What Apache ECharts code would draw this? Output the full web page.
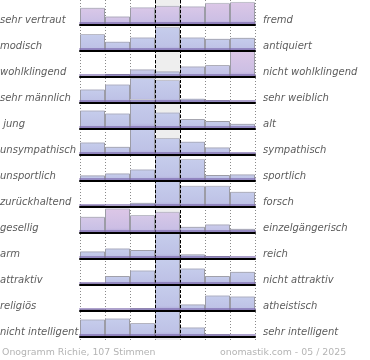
<!DOCTYPE html>
<html>
<head>
<meta charset="utf-8">
<script src="https://cdn.jsdelivr.net/npm/echarts@6/dist/echarts.min.js"></script>
<style>
html,body{margin:0;padding:0;background:#fff;}
#chart{width:370px;height:360px;}
</style>
</head>
<body>
<div id="chart"></div>
<script>
// ---- data ----
const positions = ['1', '2', '3', '4', '5', '6', '7'];
const leftLabels = ['sehr vertraut', 'modisch', 'wohlklingend', 'sehr männlich', ' jung', 'unsympathisch', 'unsportlich', 'zurückhaltend', 'gesellig', 'arm', 'attraktiv', 'religiös', 'nicht intelligent'];
const rightLabels = ['fremd', 'antiquiert', 'nicht wohlklingend', 'sehr weiblich', 'alt', 'sympathisch', 'sportlich', 'forsch', 'einzelgängerisch', 'reich', 'nicht attraktiv', 'atheistisch', 'sehr intelligent'];
const rowValues = [
  [18, 9, 18.5, 20, 19.5, 23, 24],
  [17, 9.5, 13.7, 24, 13.7, 12.3, 13.3],
  [0, 3, 7.7, 5.7, 10.7, 12, 26],
  [13.7, 18.7, 25, 23, 4.5, 2.8, 1.2],
  [18.7, 15.7, 30, 16.7, 10, 8, 5.3],
  [12.7, 8.3, 27, 17, 13.5, 7.7, 2.3],
  [5.7, 7.7, 11.7, 25, 22, 6, 6.7],
  [2, 0, 4.3, 26, 21.3, 21.3, 15.3],
  [16.3, 24.7, 18, 21.3, 6.3, 8.7, 4.3],
  [7.7, 10.7, 9, 26, 4.7, 3, 0],
  [2.3, 9, 14.7, 26, 16.7, 9, 13.3],
  [1.7, 0, 2.7, 26, 6.7, 15.7, 14.7],
  [17.7, 18.7, 14, 26, 9.7, 2.7, 0]
];
// share of pink tint per bar (0 = blue, 1 = pink)
const rowTint = [
  [0.75, 0.7, 0.75, 0.75, 0.75, 0.85, 0.85],
  [0, 0, 0, 0, 0, 0, 0],
  [0, 0, 0.1, 0, 0.1, 0.2, 0.85],
  [0, 0, 0, 0, 0, 0, 0],
  [0, 0, 0, 0, 0, 0, 0],
  [0, 0, 0, 0, 0, 0, 0],
  [0, 0, 0, 0, 0, 0, 0],
  [0, 0, 0, 0, 0, 0, 0],
  [0.6, 0.9, 0.6, 0.7, 0.2, 0.2, 0.2],
  [0, 0, 0, 0, 0, 0, 0],
  [0, 0, 0, 0, 0, 0, 0],
  [0, 0, 0, 0, 0, 0, 0],
  [0, 0, 0, 0, 0, 0, 0]
];
const footerLeft = 'Onogramm Richie, 107 Stimmen';
const footerRight = 'onomastik.com - 05 / 2025';

// ---- layout ----
const plotLeft = 80, plotWidth = 175, rowH = 26, firstBase = 25;
const labelFont = 'italic 10px "DejaVu Sans"';

function lerp(a, b, t) { return Math.round(a + (b - a) * t); }
function rgb(c) { return 'rgb(' + c.join(',') + ')'; }
const blueTop = [198, 205, 236], pinkTop = [224, 198, 230];
const blueMid = [190, 194, 230], pinkMid = [206, 190, 228];
const bottom = [172, 164, 214];
function barColor(t) {
  const top = blueTop.map((v, i) => lerp(v, pinkTop[i], t));
  const mid = blueMid.map((v, i) => lerp(v, pinkMid[i], t));
  return new echarts.graphic.LinearGradient(0, 0, 0, 1, [
    {offset: 0, color: rgb(top)},
    {offset: 0.8, color: rgb(mid)},
    {offset: 1, color: rgb(bottom)}
  ]);
}
const borderGrad = () => new echarts.graphic.LinearGradient(0, 0, 0, 1, [
  {offset: 0, color: '#d8d8e4'},
  {offset: 0.06, color: '#9c9ca6'},
  {offset: 1, color: '#9c9ca6'}
]);

const grids = [], xAxes = [], yAxes = [], series = [], graphics = [];

// background band of the middle column
grids.push({left: 155, width: 25, top: 0, height: 340, show: true, backgroundColor: '#eeeeee', borderWidth: 0, z: 0});
xAxes.push({gridIndex: 0, type: 'value', min: 0, max: 1, show: false});
yAxes.push({gridIndex: 0, type: 'value', min: 0, max: 1, show: false});
// dotted column separators
grids.push({left: plotLeft, width: plotWidth, top: 0, height: 340, z: 1});
xAxes.push({gridIndex: 1, type: 'value', min: 0, max: 7, interval: 1, z: 1,
  axisLine: {show: false}, axisTick: {show: false}, axisLabel: {show: false},
  splitLine: {show: true, showMinLine: true, showMaxLine: true, lineStyle: {color: '#8a8a8a', width: 1, type: [1, 2]}}});
yAxes.push({gridIndex: 1, type: 'value', min: 0, max: 1, show: false});
// dashed middle lines
grids.push({left: 155, width: 25, top: 0, height: 340, z: 10});
xAxes.push({gridIndex: 2, type: 'value', min: 0, max: 1, interval: 1, z: 10,
  axisLine: {show: false}, axisTick: {show: false}, axisLabel: {show: false},
  splitLine: {show: true, showMinLine: true, showMaxLine: true, lineStyle: {color: '#000', width: 1, type: [3, 2]}}});
yAxes.push({gridIndex: 2, type: 'value', min: 0, max: 1, show: false});

rowValues.forEach((vals, i) => {
  const gi = i + 3;
  const base = firstBase + i * rowH;
  grids.push({left: plotLeft, width: plotWidth, top: base - rowH, height: rowH, z: 2});
  xAxes.push({gridIndex: gi, type: 'category', data: positions, boundaryGap: true, z: 12,
    axisTick: {show: false}, axisLabel: {show: false}, splitLine: {show: false},
    axisLine: {show: true, lineStyle: {color: '#000', width: 2, shadowColor: 'rgba(120,100,170,0.6)', shadowOffsetY: -2, shadowBlur: 0}}});
  yAxes.push({gridIndex: gi, type: 'value', min: 0, max: rowH, show: false});
  series.push({
    type: 'bar', xAxisIndex: gi, yAxisIndex: gi, barCategoryGap: '0%', clip: false, silent: true,
    z: 3 + i * 0.01,
    itemStyle: {borderColor: borderGrad(), borderWidth: 1},
    data: vals.map((v, j) => ({value: v, itemStyle: {color: barColor(rowTint[i][j])}}))
  });
  graphics.push({type: 'text', x: 0, y: base - 5, z: 20,
    style: {text: leftLabels[i], font: labelFont, fill: '#5c5c5c', verticalAlign: 'middle', textVerticalAlign: 'middle'}});
  graphics.push({type: 'text', x: 263, y: base - 5, z: 20,
    style: {text: rightLabels[i], font: labelFont, fill: '#5c5c5c', verticalAlign: 'middle', textVerticalAlign: 'middle'}});
});

graphics.push({type: 'text', x: 2, y: 353, style: {text: footerLeft, font: '9.4px "DejaVu Sans"', fill: '#b4b4b4', verticalAlign: 'middle', textVerticalAlign: 'middle'}});
graphics.push({type: 'text', x: 220, y: 353, style: {text: footerRight, font: '9.4px "DejaVu Sans"', fill: '#b4b4b4', verticalAlign: 'middle', textVerticalAlign: 'middle'}});

const chart = echarts.init(document.getElementById('chart'), null, {renderer: 'canvas'});
chart.setOption({
  animation: false,
  backgroundColor: '#ffffff',
  grid: grids,
  xAxis: xAxes,
  yAxis: yAxes,
  series: series,
  graphic: graphics
});
</script>
</body>
</html>
